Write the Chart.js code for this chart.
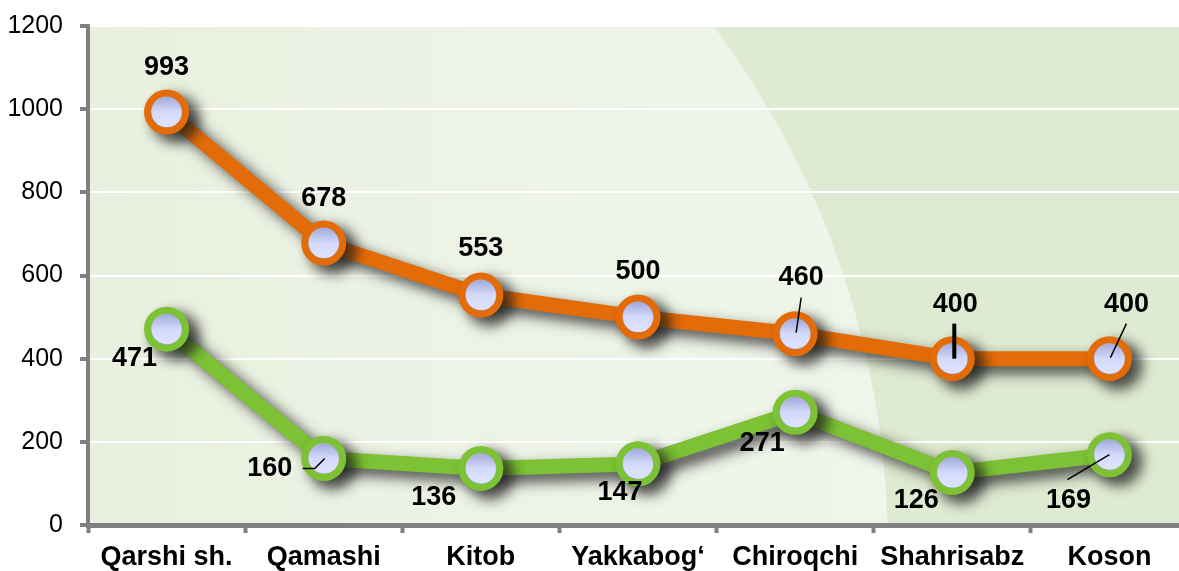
<!DOCTYPE html>
<html>
<head>
<meta charset="utf-8">
<script src="https://cdn.jsdelivr.net/npm/chart.js"></script>
<style>
  html, body { margin: 0; padding: 0; background: #fff; overflow: hidden; }
  #wrap { width: 1214px; height: 571px; }
</style>
</head>
<body>
<div id="wrap"><canvas id="chart" width="1214" height="571"></canvas></div>
<script>
const districts = ["Qarshi sh.", "Qamashi", "Kitob", "Yakkabog‘", "Chiroqchi", "Shahrisabz", "Koson"];
const orangeValues = [993, 678, 553, 500, 460, 400, 400];
const greenValues = [471, 160, 136, 147, 271, 126, 169];
const yTicks = [0, 200, 400, 600, 800, 1000, 1200];

// label placement (offsets from the point, px) and leader lines
const labelLayout = [
  {
    offsets: [[0, -45], [0, -45], [0, -46], [0, -46], [6, -56], [3, -54], [17, -54]],
    leaders: { 4: { pts: [[6, -36], [1, -1]], w: 1.5 }, 5: { pts: [[2, -35], [2, 0]], w: 4 }, 6: { pts: [[17, -35], [1, -1]], w: 1.5 } }
  },
  {
    offsets: [[-32, 29], [-54, 10], [-47, 29], [-18, 29], [-33, 31], [-36, 28], [-41, 46]],
    leaders: { 1: { pts: [[-21, 10], [-9, 10], [1, 0]], w: 1.5 }, 6: { pts: [[0, 0], [-42, 25]], w: 1.5 } }
  }
];

const FONT = "'Liberation Sans', Arial, sans-serif";

const backgroundPlugin = {
  id: "plotBackground",
  beforeDraw(chart) {
    const { ctx, chartArea: a } = chart;
    ctx.save();
    ctx.fillStyle = "#dfead2";
    ctx.fillRect(a.left, a.top, a.right - a.left, a.bottom - a.top);
    ctx.beginPath();
    ctx.rect(a.left, a.top, a.right - a.left, a.bottom - a.top);
    ctx.clip();
    const g = ctx.createLinearGradient(a.left, 0, a.left + 800, 0);
    g.addColorStop(0, "#eaf0df");
    g.addColorStop(1, "#f0f5eb");
    ctx.fillStyle = g;
    ctx.beginPath();
    ctx.arc(a.left - 77, a.bottom + 26, 877, 0, Math.PI * 2);
    ctx.fill();
    ctx.restore();
  }
};

const shadowPlugin = {
  id: "lineShadow",
  beforeDatasetDraw(chart) {
    const ctx = chart.ctx;
    ctx.save();
    ctx.shadowColor = "rgba(25,25,25,0.8)";
    ctx.shadowBlur = 14;
    ctx.shadowOffsetX = 9;
    ctx.shadowOffsetY = 7;
  },
  afterDatasetDraw(chart, args) {
    const ctx = chart.ctx;
    ctx.restore();
    // glossy centre of each marker
    chart.getDatasetMeta(args.index).data.forEach((pt) => {
      const g = ctx.createLinearGradient(0, pt.y - 15, 0, pt.y + 15);
      g.addColorStop(0, "#a3aadb");
      g.addColorStop(0.5, "#d3dafa");
      g.addColorStop(1, "#dfe5ff");
      ctx.save();
      ctx.fillStyle = g;
      ctx.beginPath();
      ctx.arc(pt.x, pt.y, 15, 0, Math.PI * 2);
      ctx.fill();
      ctx.restore();
    });
  }
};

const labelPlugin = {
  id: "valueLabels",
  afterDatasetsDraw(chart) {
    const ctx = chart.ctx;
    ctx.save();
    chart.data.datasets.forEach((ds, i) => {
      const layout = labelLayout[i];
      chart.getDatasetMeta(i).data.forEach((pt, j) => {
        const lead = layout.leaders[j];
        if (lead) {
          ctx.strokeStyle = "#000";
          ctx.lineWidth = lead.w;
          ctx.beginPath();
          lead.pts.forEach(([dx, dy], k) => {
            if (k === 0) ctx.moveTo(pt.x + dx, pt.y + dy);
            else ctx.lineTo(pt.x + dx, pt.y + dy);
          });
          ctx.stroke();
        }
        const [ox, oy] = layout.offsets[j];
        ctx.fillStyle = "#000";
        ctx.font = "bold 27px " + FONT;
        ctx.textAlign = "center";
        ctx.textBaseline = "middle";
        ctx.fillText(String(ds.data[j]), pt.x + ox, pt.y + oy);
      });
    });
    ctx.restore();
  }
};

new Chart(document.getElementById("chart"), {
  type: "line",
  data: {
    labels: districts,
    datasets: [
      {
        data: orangeValues,
        borderColor: "#e36c09",
        borderWidth: 15,
        pointRadius: 19,
        pointBorderWidth: 7,
        pointBorderColor: "#e36c09",
        pointBackgroundColor: "#d3dafa",
        tension: 0
      },
      {
        data: greenValues,
        borderColor: "#7cc234",
        borderWidth: 15,
        pointRadius: 19,
        pointBorderWidth: 7,
        pointBorderColor: "#7cc234",
        pointBackgroundColor: "#d3dafa",
        tension: 0
      }
    ]
  },
  options: {
    responsive: false,
    animation: false,
    layout: { padding: { top: 25, right: 0, left: 0, bottom: 0 } },
    plugins: { legend: { display: false }, tooltip: { enabled: false } },
    scales: {
      x: {
        offset: true,
        grid: { offset: true, drawOnChartArea: false, tickLength: 8, tickColor: "#808080", tickWidth: 4 },
        border: { color: "#808080", width: 5 },
        ticks: { color: "#000", font: { family: FONT, size: 27, weight: "bold" }, padding: 8, maxRotation: 0, autoSkip: false },
        afterFit(scale) {
          scale.height = 46;
          scale.paddingLeft = 0;
          scale.paddingRight = 0;
        }
      },
      y: {
        min: 0,
        max: 1200,
        afterBuildTicks(scale) { scale.ticks = yTicks.map((v) => ({ value: v })); },
        grid: { color: "#ffffff", lineWidth: 2, tickLength: 8, tickColor: "#808080", tickWidth: 4 },
        border: { color: "#808080", width: 4 },
        ticks: { color: "#000", font: { family: FONT, size: 25 }, padding: 17, callback: (v) => String(v) },
        afterFit(scale) {
          scale.width = 88;
          scale.paddingTop = 0;
          scale.paddingBottom = 0;
        }
      }
    }
  },
  plugins: [backgroundPlugin, shadowPlugin, labelPlugin]
});
</script>
</body>
</html>
